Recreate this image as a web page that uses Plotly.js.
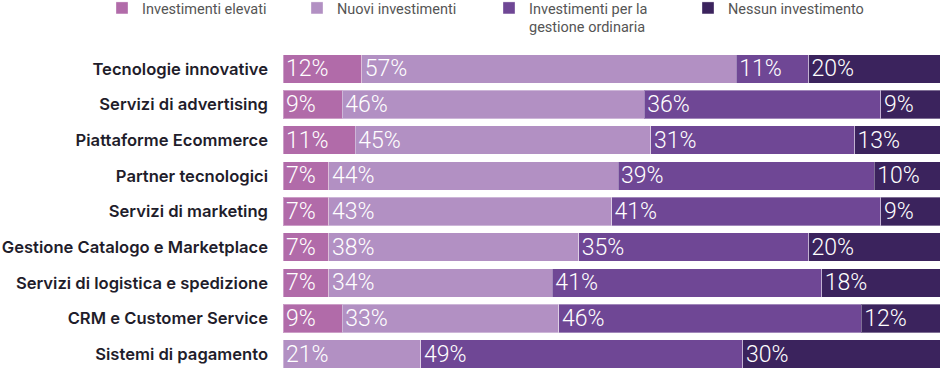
<!DOCTYPE html>
<html>
<head>
<meta charset="utf-8">
<script src="https://cdn.plot.ly/plotly-3.0.1.min.js"></script>
<style>html,body{margin:0;padding:0;background:#fff;}#chart{width:941px;height:372px;}</style>
</head>
<body>
<div id="chart"></div>
<script>
const categories = [
  "Tecnologie innovative",
  "Servizi di advertising",
  "Piattaforme Ecommerce",
  "Partner tecnologici",
  "Servizi di marketing",
  "Gestione Catalogo e Marketplace",
  "Servizi di logistica e spedizione",
  "CRM e Customer Service",
  "Sistemi di pagamento"
];
const seriesNames = [
  "Investimenti elevati",
  "Nuovi investimenti",
  "Investimenti per la<br>gestione ordinaria",
  "Nessun investimento"
];
const investimentiElevati = [12, 9, 11, 7, 7, 7, 7, 9, 0];
const nuoviInvestimenti   = [57, 46, 45, 44, 43, 38, 34, 33, 21];
const gestioneOrdinaria   = [11, 36, 31, 39, 41, 35, 41, 46, 49];
const nessunInvestimento  = [20, 9, 13, 10, 9, 20, 18, 12, 30];
const colors = ["#b16ba9", "#b290c3", "#6f4795", "#3b235d"];

const seriesValues = [investimentiElevati, nuoviInvestimenti, gestioneOrdinaria, nessunInvestimento];
const legendIds = ["legend", "legend2", "legend3", "legend4"];
const legendX = [102, 297, 489, 688];

const traces = seriesValues.map((vals, i) => ({
  type: "bar",
  orientation: "h",
  name: seriesNames[i],
  legend: legendIds[i],
  y: categories,
  x: vals,
  text: vals.map(v => v > 0 ? v + "%" : ""),
  textposition: "inside",
  insidetextanchor: "start",
  constraintext: "none",
  textfont: {family: "Roboto, sans-serif", size: 23, color: "#ffffff", weight: 300},
  marker: {color: colors[i], line: {color: "rgba(255,255,255,0.35)", width: 1}},
  hoverinfo: "none"
}));

const layout = {
  width: 941,
  height: 372,
  barmode: "stack",
  bargap: 0.2,
  margin: {l: 283, r: 1, t: 51, b: 0, pad: 0, autoexpand: false},
  paper_bgcolor: "#ffffff",
  plot_bgcolor: "#ffffff",
  showlegend: true,
  xaxis: {
    range: [0, 100],
    showgrid: false,
    zeroline: false,
    showticklabels: false,
    fixedrange: true
  },
  yaxis: {
    autorange: "reversed",
    showgrid: false,
    zeroline: false,
    ticks: "",
    ticklabelstandoff: 14,
    tickfont: {family: "Inter, Roboto, sans-serif", size: 16.6, color: "#1f1d2b", weight: 600}
  }
};

legendIds.forEach((id, i) => {
  layout[id] = {
    orientation: "h",
    xref: "container",
    yref: "paper",
    x: legendX[i] / 941,
    y: 1.1838,
    xanchor: "left",
    yanchor: "top",
    valign: "top",
    bgcolor: "rgba(0,0,0,0)",
    font: {family: "Roboto, sans-serif", size: 14.5, color: "#555555"}
  };
});

Plotly.newPlot("chart", traces, layout, {displayModeBar: false, staticPlot: true});
</script>
</body>
</html>
